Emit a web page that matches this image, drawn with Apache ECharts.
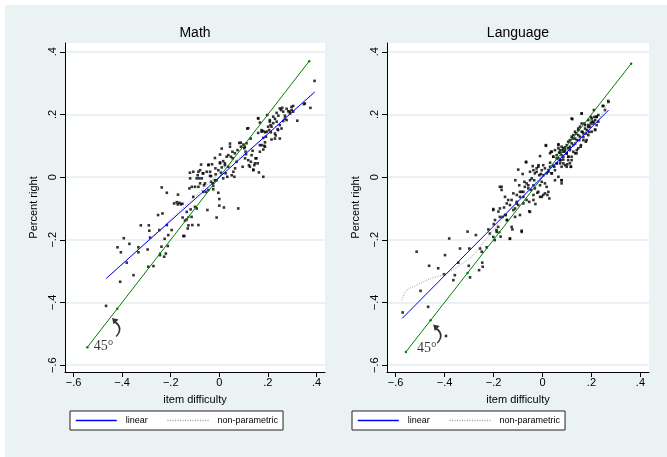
<!DOCTYPE html>
<html><head><meta charset="utf-8">
<script src="https://cdn.jsdelivr.net/npm/echarts@6/dist/echarts.min.js"></script>
<style>html,body{margin:0;padding:0;background:#fff}#c{width:667px;height:457px}</style>
</head><body><div id="c"></div>
<script>
const panelTitles = ['Math', 'Language'];
const xTitle = 'item difficulty';
const yTitle = 'Percent right';
const legendNames = ['linear', 'non-parametric'];
const tickValues = [-0.6, -0.4, -0.2, 0, 0.2, 0.4];
const tickLabels = ['\u2212.6', '\u2212.4', '\u2212.2', '0', '.2', '.4'];

const mathPoints = [
[-0.466,-0.411],[-0.408,-0.334],[-0.419,-0.224],[-0.405,-0.240],[-0.393,-0.195],[-0.381,-0.273],[-0.370,-0.213],[-0.353,-0.313],[-0.333,-0.224],[-0.323,-0.154],[-0.333,-0.240],[-0.290,-0.154],[-0.288,-0.171],[-0.285,-0.193],[-0.295,-0.231],[-0.292,-0.286],[-0.271,-0.284],[-0.252,-0.121],[-0.247,-0.169],[-0.238,-0.222],[-0.234,-0.116],[-0.237,-0.033],[-0.227,-0.254],[-0.244,-0.249],[-0.225,-0.197],[-0.216,-0.050],[-0.216,-0.153],[-0.196,-0.169],[-0.210,-0.185],[-0.186,-0.084],[-0.175,-0.080],[-0.170,-0.056],[-0.164,-0.082],[-0.158,-0.087],[-0.151,-0.129],[-0.148,-0.188],[-0.141,-0.139],[-0.134,-0.135],[-0.127,-0.154],[-0.121,0.014],[-0.123,-0.036],[-0.118,-0.103],[-0.114,-0.127],[-0.107,-0.063],[-0.100,-0.031],[-0.100,-0.095],[-0.093,-0.100],[-0.086,-0.153],[-0.082,-0.004],[-0.079,-0.020],[-0.075,0.040],[-0.068,0.012],[-0.063,-0.026],[-0.055,-0.047],[-0.049,-0.105],[-0.044,0.040],[-0.038,0.017],[-0.034,0.003],[-0.030,0.041],[-0.027,-0.020],[-0.025,-0.039],[-0.018,0.061],[-0.016,0.028],[-0.011,-0.010],[-0.011,-0.129],[-0.004,-0.050],[0.000,-0.070],[0.000,-0.091],[0.003,0.072],[0.003,0.047],[0.007,0.014],[0.010,0.091],[0.016,-0.004],[0.019,-0.097],[0.023,0.044],[0.030,0.065],[0.037,0.033],[0.044,0.107],[0.051,0.006],[0.055,0.060],[0.064,0.076],[0.078,-0.100],[0.088,0.110],[0.096,0.033],[0.105,0.097],[0.110,0.073],[0.115,0.155],[0.119,0.054],[0.126,0.033],[0.129,0.123],[0.137,0.084],[0.140,0.024],[0.147,0.044],[0.153,0.060],[0.160,0.187],[0.167,0.102],[0.174,0.145],[0.181,0.001],[0.188,0.097],[0.192,0.129],[0.197,0.198],[0.205,0.150],[0.211,0.166],[0.215,0.120],[0.222,0.193],[0.229,0.139],[0.236,0.177],[0.242,0.150],[0.249,0.219],[0.256,0.155],[0.263,0.209],[0.270,0.187],[0.277,0.182],[0.290,0.209],[0.297,0.224],[0.304,0.209],[0.321,0.180],[0.348,0.233],[0.375,0.221],[0.392,0.307],
[-0.079,0.022],[-0.066,0.012],[-0.089,0.006],[-0.072,-0.004],[-0.052,0.017],[-0.045,0.038],[-0.038,0.004],[-0.034,-0.015],[-0.059,-0.020],[-0.086,-0.031],[-0.066,-0.047],[-0.045,-0.041],[-0.025,-0.028],[-0.018,-0.010],[-0.015,0.009],[-0.004,0.022],[0.003,0.044],[0.010,0.031],[0.016,0.051],[0.023,0.038],[0.026,0.012],[0.033,0.001],[0.037,0.070],[0.044,0.097],[0.048,0.065],[0.054,0.081],[0.058,0.017],[0.062,0.001],[0.065,0.028],[0.071,0.049],[0.075,0.086],[0.082,0.109],[0.089,0.097],[0.099,0.104],[0.103,0.092],[0.106,0.060],[0.108,0.081],[0.112,0.108],[0.119,0.156],[0.122,0.038],[0.130,0.049],[0.133,0.070],[0.140,0.022],[0.144,0.038],[0.149,0.060],[0.158,0.044],[0.163,0.015],[0.167,0.081],[0.174,0.102],[0.181,0.125],[0.188,0.111],[0.195,0.145],[0.201,0.161],[0.208,0.177],[0.174,0.150],[0.181,0.147],[0.188,0.143],
[0.352,0.235],[0.304,0.227],[0.298,0.214],[0.291,0.203],[0.284,0.210],[0.277,0.218],[0.270,0.196],[0.259,0.221],[0.254,0.214],[0.263,0.179],[0.243,0.196],[0.236,0.205],[0.229,0.186],[0.249,0.166],[0.240,0.153],[0.222,0.172],[0.215,0.161],[0.212,0.143],[0.208,0.182],[0.229,0.123],[0.232,0.133],[0.249,0.123],[0.160,0.188],[0.167,0.174],[0.185,0.100],[0.181,0.088],[0.160,0.141],
[-0.212,-0.220],[-0.220,-0.244],[-0.130,-0.164],[-0.144,-0.188],[-0.113,-0.031],[-0.120,-0.004],[-0.093,-0.004],[-0.086,0.017],[-0.107,0.017],[-0.152,-0.085],[-0.134,-0.111],[-0.111,-0.153],[-0.171,-0.087]
];

const langPoints = [
[-0.571,-0.432],[-0.514,-0.238],[-0.498,-0.363],[-0.463,-0.283],[-0.467,-0.414],[-0.426,-0.291],[-0.398,-0.249],[-0.402,-0.310],[-0.381,-0.196],[-0.364,-0.329],[-0.358,-0.313],[-0.344,-0.273],[-0.337,-0.228],[-0.394,-0.507],[-0.306,-0.174],[-0.299,-0.228],[-0.301,-0.283],[-0.296,-0.320],[-0.272,-0.185],[-0.259,-0.297],[-0.255,-0.228],[-0.248,-0.238],[-0.246,-0.273],[-0.244,-0.286],[-0.228,-0.224],[-0.221,-0.167],[-0.215,-0.180],[-0.201,-0.102],[-0.199,-0.150],[-0.195,-0.201],[-0.188,-0.169],[-0.180,-0.110],[-0.174,-0.100],[-0.171,-0.190],[-0.167,-0.031],[-0.163,-0.127],[-0.157,-0.097],[-0.150,-0.121],[-0.146,-0.084],[-0.144,-0.137],[-0.133,-0.197],[-0.126,-0.073],[-0.123,-0.167],[-0.119,-0.052],[-0.112,-0.127],[-0.111,-0.010],[-0.106,-0.084],[-0.099,0.024],[-0.095,-0.026],[-0.092,-0.047],[-0.085,-0.171],[-0.081,0.010],[-0.078,-0.063],[-0.074,-0.015],[-0.067,0.049],[-0.065,-0.073],[-0.058,-0.026],[-0.054,-0.109],[-0.051,0.017],[-0.047,-0.041],[-0.040,0.035],[-0.037,-0.057],[-0.034,-0.010],[-0.029,-0.086],[-0.024,0.028],[-0.021,-0.050],[-0.016,0.038],[-0.010,-0.026],[-0.007,0.010],[-0.003,-0.063],[0.003,0.006],[0.010,-0.052],[0.014,0.100],[0.020,-0.057],[0.024,0.022],[0.028,-0.068],[0.031,0.046],[0.035,0.081],[0.037,0.012],[0.044,0.065],[0.048,0.033],[0.051,-0.010],[0.058,0.060],[0.065,0.105],[0.068,0.078],[0.072,0.044],[0.078,-0.010],[0.082,0.086],[0.085,0.056],[0.092,0.095],[0.099,0.076],[0.101,0.041],[0.106,0.065],[0.112,0.097],[0.116,0.033],[0.119,0.187],[0.123,0.123],[0.126,0.081],[0.133,0.107],[0.137,0.139],[0.139,0.076],[0.146,0.155],[0.150,0.118],[0.156,0.097],[0.160,0.203],[0.164,0.144],[0.167,0.128],[0.174,0.166],[0.178,0.139],[0.180,0.118],[0.187,0.160],[0.191,0.144],[0.197,0.171],[0.201,0.187],[0.208,0.177],[0.210,0.214],[0.215,0.152],[0.221,0.193],[0.228,0.198],[0.246,0.227],[0.269,0.243],
[0.014,0.102],[-0.010,0.067],[-0.067,0.047],[-0.037,0.022],[-0.031,0.012],[-0.024,0.017],[-0.017,0.033],[-0.013,0.006],[-0.003,0.022],[0.003,0.038],[0.010,0.028],[0.017,0.012],[0.024,0.017],[0.031,0.076],[0.038,0.081],[0.044,0.065],[0.051,0.086],[0.058,0.070],[0.065,0.092],[0.072,0.078],[0.078,0.097],[0.085,0.081],[0.092,0.088],[0.099,0.076],[0.105,0.065],[0.112,0.092],[0.119,0.054],[0.074,0.054],[0.085,0.044],[0.099,0.033],[0.078,-0.010],[0.078,-0.020],[0.031,0.033],[0.044,0.038],[0.058,0.044],[0.038,0.012],[0.051,0.022],[0.065,0.001],[0.017,-0.031],[0.024,-0.047],[0.003,-0.057],[-0.010,-0.063],[-0.017,-0.047],[-0.003,-0.015],[0.010,-0.020],[-0.051,-0.111],[-0.085,-0.175],[-0.133,-0.196],[-0.174,-0.031],[-0.167,-0.041],[-0.153,-0.063],[-0.140,-0.073],[-0.133,-0.089],[-0.119,-0.105],[-0.112,-0.100],[-0.105,-0.079],[-0.099,-0.089],[-0.092,-0.063],[-0.078,-0.047],[-0.072,-0.031],[-0.065,-0.020],[-0.058,-0.036],[-0.051,-0.010],[-0.044,-0.004],[-0.037,-0.026],[-0.031,-0.036],[-0.054,-0.079],[-0.037,-0.073],[-0.078,-0.084],[-0.092,-0.121],[-0.153,-0.121],[-0.201,-0.105],[-0.194,-0.137],[-0.174,-0.127],[-0.181,-0.159],[-0.146,-0.137],[-0.126,-0.159],[-0.187,-0.175],[-0.201,-0.191],[-0.105,-0.057],[-0.085,-0.047],
[0.269,0.240],[0.249,0.227],[0.255,0.214],[0.160,0.203],[0.122,0.185],[0.221,0.192],[0.215,0.182],[0.208,0.171],[0.201,0.177],[0.194,0.161],[0.187,0.166],[0.181,0.150],[0.174,0.155],[0.167,0.139],[0.160,0.145],[0.153,0.129],[0.146,0.134],[0.140,0.118],[0.133,0.123],[0.126,0.102],[0.119,0.108],[0.112,0.086],[0.105,0.092],[0.099,0.076],[0.092,0.081],[0.085,0.065],[0.078,0.070],[0.072,0.054],[0.065,0.060],[0.058,0.044],[0.215,0.150],[0.201,0.145],[0.187,0.134],[0.177,0.113],[0.167,0.118],[0.157,0.102],[0.146,0.092],[0.140,0.086],[0.133,0.076],[0.119,0.065],[0.112,0.044],[0.105,0.054],[0.092,0.038],[0.078,0.033],[0.116,0.033],[0.221,0.166],[0.228,0.177],[0.212,0.192],[0.198,0.192],[0.187,0.182],[0.171,0.171],[0.153,0.161],[0.146,0.150],[0.133,0.145],[0.126,0.134],[0.119,0.129],[0.112,0.118],[0.105,0.113],[0.099,0.102],[0.085,0.092],[0.072,0.086],[0.065,0.102],[0.160,0.171]
];

const mathLinear = [[-0.465, -0.323], [0.393, 0.272]];
const langLinear = [[-0.573, -0.451], [0.270, 0.214]];
const mathNonparam = [[-0.466,-0.325],[-0.40,-0.278],[-0.33,-0.228],[-0.25,-0.172],[-0.18,-0.12],[-0.10,-0.062],[-0.03,-0.01],[0.02,0.03],[0.06,0.05],[0.12,0.085],[0.2,0.138],[0.28,0.195],[0.392,0.27]];
const langNonparam = [[-0.575,-0.393],[-0.555,-0.361],[-0.528,-0.35],[-0.46,-0.325],[-0.398,-0.309],[-0.337,-0.281],[-0.283,-0.249],[-0.228,-0.196],[-0.15,-0.118],[-0.08,-0.06],[0,0.005],[0.08,0.068],[0.16,0.13],[0.22,0.175],[0.25,0.21],[0.27,0.245]];
const mathDiagonal = [[-0.543,-0.543],[-0.42,-0.42],[-0.244,-0.244],[-0.127,-0.127],[0.37,0.37]];
const langDiagonal = [[-0.558,-0.558],[-0.457,-0.457],[-0.306,-0.306],[-0.176,-0.176],[0.362,0.362]];
const arrowAnchors = [[-0.424, -0.480], [-0.429, -0.501]];
const angleLabelAnchors = [[-0.476, -0.539], [-0.472, -0.546]];
const angleLabel = '45\u00b0';

const FONT = 'Liberation Sans, Arial, Helvetica, sans-serif';
const fmt = v => { const k = Math.round(v * 10); const i = tickValues.findIndex(t => Math.round(t * 10) === k); return i >= 0 ? tickLabels[i] : ''; };
const grids = [
  {left: 65, top: 43, width: 260, height: 329},
  {left: 387, top: 43, width: 262, height: 329}
];
const pointsBy = [mathPoints, langPoints];
const linBy = [mathLinear, langLinear];
const npBy = [mathNonparam, langNonparam];
const diagBy = [mathDiagonal, langDiagonal];
const arrowPath = 'path://M0,0 L6.5,1.5 L1.5,6.5 Z M3,3 C10,7 10,14 4.5,19.5 L3.5,18.5 C8,14 8,8 2,4.5 Z';

const xAxes = [], yAxes = [], series = [], titles = [], legends = [];
[0, 1].forEach(i => {
  xAxes.push({
    type: 'value', gridIndex: i, min: -0.635, max: 0.435,
    axisLine: {show: true, onZero: false, lineStyle: {color: '#000', width: 1}},
    axisTick: {show: true, customValues: tickValues, length: 5, lineStyle: {color: '#000'}},
    axisLabel: {customValues: tickValues, formatter: fmt, color: '#000', fontSize: 11, fontFamily: FONT, margin: 5},
    splitLine: {show: false},
    name: xTitle, nameLocation: 'middle', nameGap: 22,
    nameTextStyle: {color: '#000', fontSize: 11, fontFamily: FONT}
  });
  yAxes.push({
    type: 'value', gridIndex: i, min: -0.622, max: 0.428,
    axisLine: {show: true, onZero: false, lineStyle: {color: '#000', width: 1}},
    axisTick: {show: true, customValues: tickValues, length: 5, lineStyle: {color: '#000'}},
    axisLabel: {customValues: tickValues, formatter: fmt, color: '#000', fontSize: 11, fontFamily: FONT, rotate: 90, margin: 7},
    splitLine: {show: true, lineStyle: {color: '#e4eef0', width: 1.5}},
    name: yTitle, nameLocation: 'middle', nameGap: 26, nameRotate: 90,
    nameTextStyle: {color: '#000', fontSize: 11, fontFamily: FONT}
  });
  titles.push({
    text: panelTitles[i], left: grids[i].left + grids[i].width / 2, top: 26, textAlign: 'center', padding: 0,
    textStyle: {color: '#000', fontSize: 14, fontWeight: 'normal', fontFamily: FONT}
  });
  legends.push({
    data: legendNames, left: i === 0 ? 70 : 352, top: 411, orient: 'horizontal',
    padding: [5, 5, 5, 5], itemWidth: 41, itemHeight: 10, itemGap: 19,
    backgroundColor: '#fff', borderColor: '#222', borderWidth: 1, borderRadius: 0,
    textStyle: {color: '#000', fontSize: 9, fontFamily: FONT, padding: [0, 0, 0, 4]},
    itemStyle: {opacity: 0},
    lineStyle: {width: 1.5}, selectedMode: false
  });
  series.push({
    type: 'scatter', name: 'points' + i, xAxisIndex: i, yAxisIndex: i, data: pointsBy[i],
    symbol: 'rect', symbolSize: 2.6, itemStyle: {color: '#000'}, silent: true, z: 2
  });
  series.push({
    type: 'line', name: 'diag' + i, xAxisIndex: i, yAxisIndex: i, data: diagBy[i],
    symbol: 'circle', symbolSize: 2.5, showSymbol: true, lineStyle: {color: '#008000', width: 1}, itemStyle: {color: '#008000'}, silent: true, z: 3
  });
  series.push({
    type: 'line', name: legendNames[1], xAxisIndex: i, yAxisIndex: i, data: npBy[i],
    symbol: 'none', smooth: 0.3, lineStyle: {color: '#999', width: 1, type: [1, 1.5]}, itemStyle: {color: '#999'}, silent: true, z: 3
  });
  series.push({
    type: 'line', name: legendNames[0], xAxisIndex: i, yAxisIndex: i, data: linBy[i],
    symbol: 'none', lineStyle: {color: '#0000ff', width: 1}, itemStyle: {color: '#0000ff'}, silent: true, z: 4
  });
  series.push({
    type: 'scatter', name: 'arrow' + i, xAxisIndex: i, yAxisIndex: i, data: [arrowAnchors[i]],
    symbol: arrowPath, symbolSize: [8.5, 19], itemStyle: {color: '#000'}, silent: true, z: 5
  });
  series.push({
    type: 'scatter', name: 'angle' + i, xAxisIndex: i, yAxisIndex: i, data: [angleLabelAnchors[i]],
    symbolSize: 0, silent: true, z: 5,
    label: {show: true, position: 'inside', formatter: angleLabel, color: '#000', fontSize: 14, fontFamily: 'Liberation Serif, Times New Roman, serif'}
  });
});

const chart = echarts.init(document.getElementById('c'), null, {renderer: 'canvas'});
chart.setOption({
  animation: false,
  backgroundColor: '#fff',
  graphic: [{type: 'rect', shape: {x: 5, y: 5, width: 662, height: 452}, style: {fill: '#eaf2f3'}, z: -10, silent: true}],
  title: titles,
  legend: legends,
  grid: grids.map(g => Object.assign({show: true, backgroundColor: '#fff', borderWidth: 0}, g)),
  xAxis: xAxes,
  yAxis: yAxes,
  series: series
});
</script></body></html>
